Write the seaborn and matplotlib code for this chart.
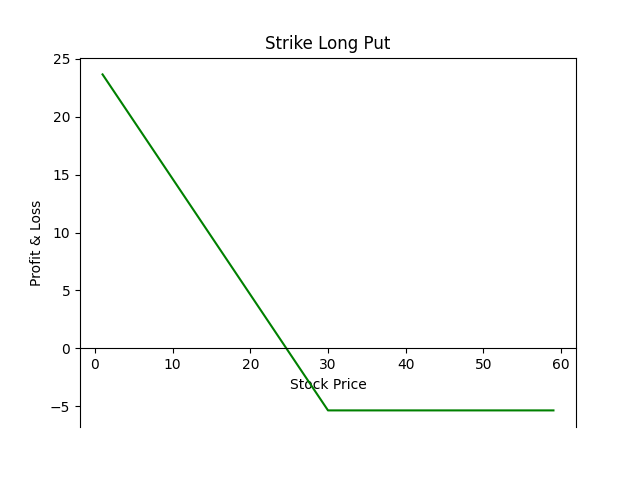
import matplotlib
matplotlib.use("Agg")
import matplotlib.pyplot as plt
import seaborn as sns

# Stock price at the kinks of the long put payoff (strike 30)
stock_price = [1, 30, 59]
profit_loss = [23.65, -5.35, -5.35]

fig, ax = plt.subplots(figsize=(6.4, 4.8), dpi=100)
sns.lineplot(x=stock_price, y=profit_loss, color="green", ax=ax)

# x axis through zero
ax.spines["bottom"].set_position("zero")

ax.set_title("Strike Long Put")
ax.set_xlabel("Stock Price")
ax.set_ylabel("Profit & Loss")

fig.savefig("out.png")
